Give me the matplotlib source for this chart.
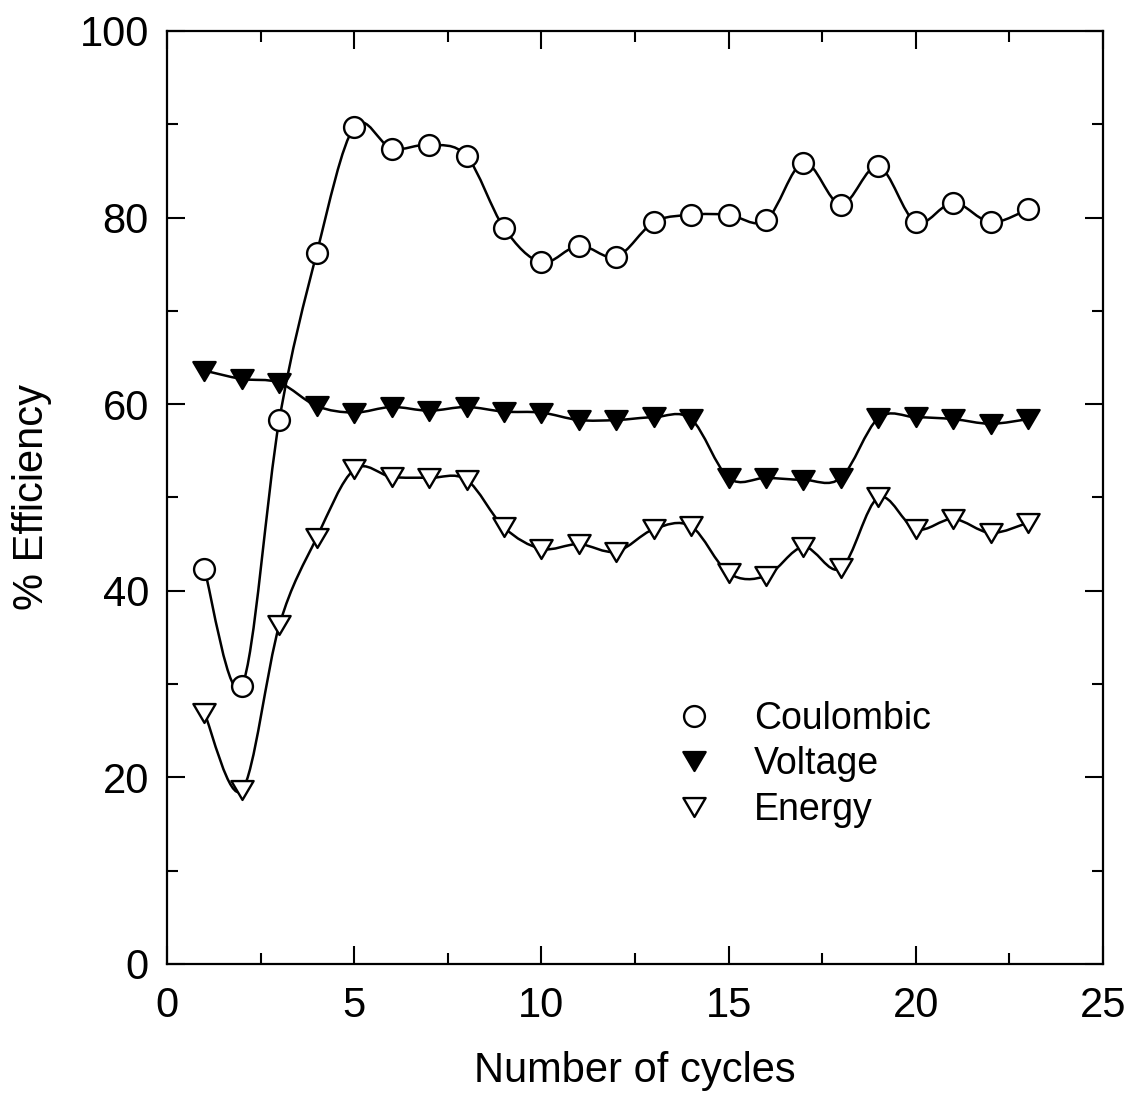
#!/usr/bin/env python

# Efficiency vs cycle number, smooth curves through the points

import numpy as np
import matplotlib

matplotlib.use("Agg")
import matplotlib.pyplot as plt
from matplotlib.path import Path
from matplotlib.patches import PathPatch
from matplotlib.ticker import MultipleLocator

cycles = list(range(1, 24))
coulombic = [42.3, 29.8, 58.3, 76.2, 89.7, 87.4, 87.8, 86.6, 78.9, 75.2, 77.0, 75.8,
             79.5, 80.3, 80.3, 79.7, 85.9, 81.4, 85.5, 79.5, 81.6, 79.5, 80.9]
voltage = [63.6, 62.7, 62.3, 59.8, 59.1, 59.7, 59.3, 59.7, 59.2, 59.1, 58.3, 58.3,
           58.6, 58.4, 52.1, 52.1, 51.9, 52.1, 58.5, 58.6, 58.4, 57.9, 58.4]
energy = [26.9, 18.6, 36.3, 45.7, 53.0, 52.2, 52.1, 51.9, 46.8, 44.5, 45.0, 44.2,
          46.6, 46.9, 41.9, 41.6, 44.7, 42.4, 50.0, 46.6, 47.7, 46.2, 47.3]

xticks = [0, 5, 10, 15, 20, 25]
yticks = [0, 20, 40, 60, 80, 100]

plt.rcParams["font.family"] = ["Liberation Sans", "DejaVu Sans"]
plt.rcParams["font.size"] = 30


def smoothPath(x, y):
    # Catmull-Rom segments written as cubic Bezier pieces
    p = np.column_stack([x, y]).astype(float)
    ext = np.vstack([p[0], p, p[-1]])
    verts = [p[0]]
    codes = [Path.MOVETO]
    for i in range(len(p) - 1):
        p0, p1, p2, p3 = ext[i], ext[i + 1], ext[i + 2], ext[i + 3]
        verts += [p1 + (p2 - p0) / 6.0, p2 - (p3 - p1) / 6.0, p2]
        codes += [Path.CURVE4] * 3
    return Path(verts, codes)


fig = plt.figure(figsize=(11.32, 11.06), dpi=100)
ax = fig.add_axes([0.1475, 0.1284, 0.8269, 0.8436])

# downward triangle, a bit flatter than matplotlib's "v"
tri = Path([(-1, 0.85), (1, 0.85), (0, -0.85), (-1, 0.85)],
           [Path.MOVETO, Path.LINETO, Path.LINETO, Path.CLOSEPOLY])

for yv in (coulombic, voltage, energy):
    ax.add_patch(PathPatch(smoothPath(cycles, yv), facecolor="none",
                           edgecolor="black", linewidth=1.8, zorder=2))

ax.plot(cycles, coulombic, linestyle="none", marker="o", markersize=15,
        markerfacecolor="white", markeredgecolor="black", markeredgewidth=1.7,
        zorder=3, label="Coulombic")
ax.plot(cycles, voltage, linestyle="none", marker=tri, markersize=16,
        markerfacecolor="black", markeredgecolor="black", markeredgewidth=1.7,
        zorder=3, label="Voltage")
ax.plot(cycles, energy, linestyle="none", marker=tri, markersize=16,
        markerfacecolor="white", markeredgecolor="black", markeredgewidth=1.7,
        zorder=3, label="Energy")

ax.set_xlim(0, 25)
ax.set_ylim(0, 100)
ax.set_xticks(xticks)
ax.set_yticks(yticks)
ax.xaxis.set_minor_locator(MultipleLocator(2.5))
ax.yaxis.set_minor_locator(MultipleLocator(10))
ax.tick_params(which="both", direction="in", top=True, right=True, width=1.5)
ax.tick_params(which="major", length=13, pad=13, labelsize=30)
ax.tick_params(axis="x", which="major", pad=16)
ax.tick_params(which="minor", length=8)
for s in ax.spines.values():
    s.set_linewidth(1.6)

ax.set_xlabel("Number of cycles", fontsize=30, labelpad=18)
ax.set_ylabel("% Efficiency", fontsize=30, labelpad=20)

ax.legend(loc="upper left", bbox_to_anchor=(0.503, 0.318), frameon=False,
          numpoints=1, handletextpad=1.0, labelspacing=0.25, fontsize=27,
          handlelength=1.2)

fig.savefig("out.png")
